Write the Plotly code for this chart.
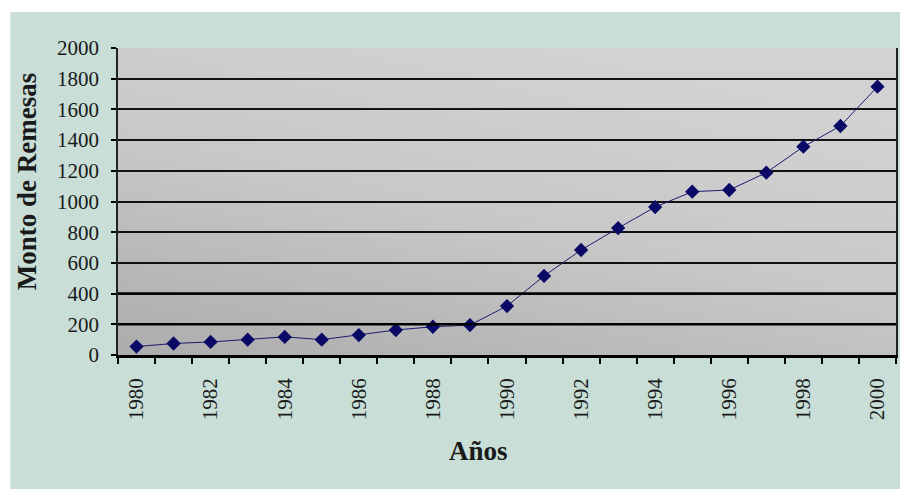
import base64
import plotly.graph_objects as go

years = list(range(1980, 2001))
remesas = [55, 75, 85, 100, 118, 100, 130, 163, 184, 195, 319, 515, 684, 827,
           964, 1064, 1075, 1188, 1357, 1492, 1748]
tick_years = list(range(1980, 2001, 2))
y_ticks = list(range(0, 2001, 200))

W, H = 900, 491
L, R, T, B = 118, 2, 48, 136
pw, ph = W - L - R, H - T - B

svg = (
    '<svg xmlns="http://www.w3.org/2000/svg" width="780" height="307" preserveAspectRatio="none">'
    '<defs><linearGradient id="g" x1="0" y1="1" x2="0.55" y2="0">'
    '<stop offset="0" stop-color="#acacac"/><stop offset="0.55" stop-color="#c8c8c8"/>'
    '<stop offset="1" stop-color="#d3d2d2"/></linearGradient></defs>'
    '<rect width="780" height="307" fill="url(#g)"/></svg>'
)
src = "data:image/svg+xml;base64," + base64.b64encode(svg.encode()).decode()

fig = go.Figure()
fig.add_trace(go.Scatter(
    x=years, y=remesas, mode="lines+markers",
    line=dict(color="#1c1c70", width=1),
    marker=dict(symbol="diamond", size=11, color="#0a0a66"),
    showlegend=False, hoverinfo="skip",
))

serif = "Liberation Serif, Times New Roman, serif"

fig.update_layout(
    width=W, height=H,
    margin=dict(l=L, r=R, t=T, b=B),
    paper_bgcolor="#c8ded6",
    plot_bgcolor="#c6c6c6",
    font=dict(family=serif, color="#1a1a1a"),
    images=[dict(source=src, xref="paper", yref="paper", x=0, y=1,
                 sizex=1, sizey=1, sizing="stretch", layer="below",
                 xanchor="left", yanchor="top")],
    xaxis=dict(
        range=[1979.5, 2000.5],
        tickmode="array", tickvals=tick_years, ticktext=[str(t) for t in tick_years],
        tickangle=-90, tickfont=dict(size=21, family=serif, color="#1a1a1a"),
        ticks="", ticklabelstandoff=12,
        minor=dict(tickmode="array", tickvals=[y - 0.5 for y in years] + [2000.5],
                   ticks="outside", ticklen=6, tickwidth=1.5, tickcolor="#000",
                   showgrid=False),
        showgrid=False, zeroline=False,
        showline=True, linecolor="#000", linewidth=2.5,
    ),
    yaxis=dict(
        range=[0, 2000], tickmode="array", tickvals=y_ticks,
        tickfont=dict(size=21, family=serif, color="#1a1a1a"),
        ticks="outside", ticklen=5, tickwidth=1.5, tickcolor="#000",
        ticklabelstandoff=8,
        showgrid=True, gridcolor="#111", gridwidth=2,
        zeroline=False,
        showline=True, linecolor="#222", linewidth=1.5, mirror=True,
    ),
    annotations=[
        dict(text="<b>Monto de Remesas</b>", xref="paper", yref="paper",
             x=(27 - L) / pw, y=(T + ph - 182) / ph, xanchor="center", yanchor="middle",
             textangle=-90, showarrow=False,
             font=dict(size=27, family=serif, color="#1a1a1a")),
        dict(text="<b>Años</b>", xref="paper", yref="paper",
             x=(479 - L) / pw, y=-(451 - (T + ph)) / ph, xanchor="center", yanchor="middle",
             showarrow=False,
             font=dict(size=27, family=serif, color="#1a1a1a")),
    ],
    shapes=[
        dict(type="rect", xref="paper", yref="paper", x0=-0.2, x1=(10 - L) / pw,
             y0=-0.6, y1=1.4, fillcolor="white", line=dict(width=0), layer="above"),
        dict(type="rect", xref="paper", yref="paper", x0=-0.2, x1=1.1,
             y0=1 + (T - 12) / ph, y1=1.4, fillcolor="white", line=dict(width=0), layer="above"),
        dict(type="rect", xref="paper", yref="paper", x0=-0.2, x1=1.1,
             y0=-0.6, y1=-(489 - (T + ph)) / ph, fillcolor="white", line=dict(width=0), layer="above"),
    ] + [
        dict(type="line", xref="paper", yref="y", x0=0, x1=1, y0=v, y1=v,
             line=dict(color="#000", width=2.5), layer="above")
        for v in (200, 400)
    ],
)

fig.write_html("out.html", config={"displayModeBar": False},
               post_script="document.body.style.margin='0';document.body.style.overflow='hidden';")
